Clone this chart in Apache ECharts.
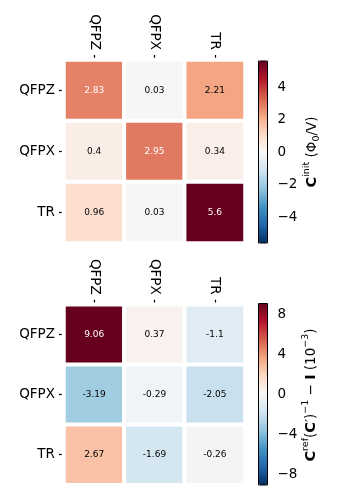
<!DOCTYPE html>
<html><head><meta charset="utf-8">
<script src="https://cdn.jsdelivr.net/npm/echarts@6/dist/echarts.min.js"></script>
<style>html,body{margin:0;padding:0;background:#fff}#c{width:340px;height:500px}</style>
</head><body><div id="c"></div>
<script>
const categories = ['QFPZ', 'QFPX', 'TR'];
const initRows = [
  [2.83, 0.03, 2.21],
  [0.4, 2.95, 0.34],
  [0.96, 0.03, 5.6]
];
const refRows = [
  [9.06, 0.37, -1.1],
  [-3.19, -0.29, -2.05],
  [2.67, -1.69, -0.26]
];
const initLimit = 5.6;
const refLimit = 9.06;
const initTicks = [-4, -2, 0, 2, 4];
const refTicks = [-8, -4, 0, 4, 8];
const RdBu_r = ['#053061','#2166ac','#4393c3','#92c5de','#d1e5f0','#f7f7f7','#fddbc7','#f4a582','#d6604d','#b2182b','#67001f'];

const FONT = 'DejaVu Sans';
function toCells(rows) {
  const out = [];
  rows.forEach((r, yi) => r.forEach((v, xi) => out.push([xi, yi, v])));
  return out;
}
function labelFmt(limit) {
  return p => {
    const v = p.value[2];
    return (Math.abs(v) / limit > 0.45 ? '{w|' : '{k|') + String(v) + '}';
  };
}
const minus = v => String(v).replace('-', '\u2212');

const grids = [
  {left: 64, top: 60, width: 181, height: 183},
  {left: 64, top: 304.7, width: 181, height: 180},
  {left: 258.5, top: 61, width: 9, height: 182, show: true, borderColor: '#000', borderWidth: 1, backgroundColor: 'transparent', z: 10},
  {left: 258.5, top: 303.5, width: 9, height: 181.5, show: true, borderColor: '#000', borderWidth: 1, backgroundColor: 'transparent', z: 10}
];
const tickStyle = {color: '#000', width: 1.2};
function catX(gi) {
  return {type: 'category', gridIndex: gi, data: categories, position: 'top',
    axisLine: {show: false}, splitLine: {show: false},
    axisTick: {show: true, alignWithLabel: true, length: 5, lineStyle: tickStyle},
    axisLabel: {rotate: 90, margin: 10, fontSize: 13.5, fontFamily: FONT, color: '#000'}};
}
function catY(gi) {
  return {type: 'category', gridIndex: gi, data: categories, inverse: true,
    axisLine: {show: false}, splitLine: {show: false},
    axisTick: {show: true, alignWithLabel: true, length: 5, lineStyle: tickStyle},
    axisLabel: {margin: 9, fontSize: 13.5, fontFamily: FONT, color: '#000'}};
}
function barY(gi, lim, ticks) {
  return {type: 'value', gridIndex: gi, min: -lim, max: lim, position: 'right',
    axisLine: {show: false}, splitLine: {show: false},
    axisTick: {show: true, length: 4, customValues: ticks, lineStyle: tickStyle},
    axisLabel: {show: true, customValues: ticks, margin: 10, fontSize: 13.5, fontFamily: FONT, color: '#000', formatter: minus}};
}
function heat(gi, rows, limit) {
  return {type: 'heatmap', xAxisIndex: gi, yAxisIndex: gi, data: toCells(rows),
    itemStyle: {borderColor: '#fff', borderWidth: 4},
    label: {show: true, formatter: labelFmt(limit),
      rich: {w: {color: '#fff', fontSize: 9, fontFamily: FONT}, k: {color: '#000', fontSize: 9, fontFamily: FONT}}},
    emphasis: {disabled: true}};
}
const richLbl = {
  b: {fontWeight: 'bold', fontSize: 14.5, fontFamily: FONT, lineHeight: 20, fill: '#000'},
  sup: {fontSize: 9.5, fontFamily: FONT, lineHeight: 10, verticalAlign: 'top', fill: '#000'},
  sub: {fontSize: 9.5, fontFamily: FONT, lineHeight: 10, verticalAlign: 'bottom', fill: '#000'}
};
function cbLabel(x, y, text) {
  return {type: 'text', x: x, y: y, rotation: Math.PI / 2, z: 100,
    style: {text: text, rich: richLbl, fontSize: 13.5, fontFamily: FONT, lineHeight: 20, fill: '#000',
      align: 'center', verticalAlign: 'middle'}};
}

const chart = echarts.init(document.getElementById('c'), null, {renderer: 'canvas'});
chart.setOption({
  animation: false,
  backgroundColor: '#fff',
  grid: grids,
  xAxis: [catX(0), catX(1), {type: 'value', gridIndex: 2, show: false}, {type: 'value', gridIndex: 3, show: false}],
  yAxis: [catY(0), catY(1), barY(2, initLimit, initTicks), barY(3, refLimit, refTicks)],
  visualMap: [
    {type: 'continuous', seriesIndex: 0, min: -initLimit, max: initLimit, calculable: false, hoverLink: false,
      left: 258.5, top: 61, itemWidth: 9, itemHeight: 182, padding: 0, text: null, inRange: {color: RdBu_r}},
    {type: 'continuous', seriesIndex: 1, min: -refLimit, max: refLimit, calculable: false, hoverLink: false,
      left: 258.5, top: 303.5, itemWidth: 9, itemHeight: 181.5, padding: 0, text: null, inRange: {color: RdBu_r}}
  ],
  series: [heat(0, initRows, initLimit), heat(1, refRows, refLimit)],
  graphic: [
    cbLabel(312, 152, '{b|C}{sup|init} (\u03a6{sub|0}/V)'),
    cbLabel(311, 395, '{b|C}{sup|ref}({b|C}\u2032){sup|\u22121} \u2212 {b|I} (10{sup|\u22123})')
  ]
});
</script></body></html>
